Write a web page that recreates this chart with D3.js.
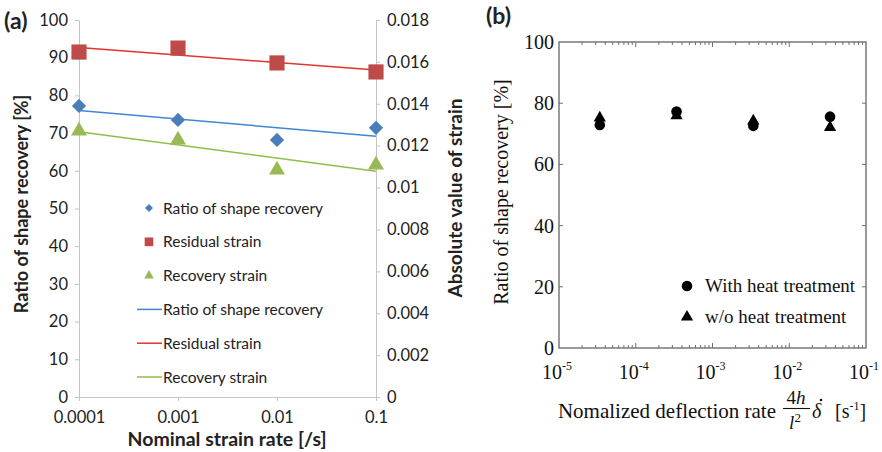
<!DOCTYPE html>
<html>
<head>
<meta charset="utf-8">
<script src="https://cdn.jsdelivr.net/npm/d3@7"></script>
<style>
  body { margin: 0; background: #fff; }
  svg { display: block; }
  .sans { font-family: Lato, "Open Sans", sans-serif; fill: #222; }
  .serif { font-family: "Liberation Serif", "DejaVu Serif", serif; fill: #111; }
</style>
</head>
<body>
<div id="chart"></div>
<script>
// ---- data ----
// (a) strain-rate sweep
const rateA = [0.0001, 0.001, 0.01, 0.1];
const rateATicks = ["0.0001", "0.001", "0.01", "0.1"];
const ratioRecovery = [77.2, 73.5, 68.2, 71.4];          // left axis, %
const residualStrain = [0.01647, 0.01666, 0.01595, 0.01552]; // right axis
const recoveryStrain = [0.0127, 0.01227, 0.01084, 0.01108];  // right axis
const leftTicksA = [0, 10, 20, 30, 40, 50, 60, 70, 80, 90, 100];
const rightTicksA = [0, 0.002, 0.004, 0.006, 0.008, 0.01, 0.012, 0.014, 0.016, 0.018];

// (b) deflection-rate sweep
const rateB = [3.4e-5, 3.4e-4, 3.4e-3, 3.4e-2];
const withHeat = [72.9, 77.3, 72.6, 75.6];
const withoutHeat = [75.2, 75.9, 74.2, 72.1];
const yTicksB = [0, 20, 40, 60, 80, 100];
const xExpB = [-5, -4, -3, -2, -1];

const width = 882, height = 452;

const svg = d3.select("#chart")
  .append("svg")
  .attr("width", width)
  .attr("height", height);

// ================= panel (a) =================
const a = { left: 79, right: 376, top: 20, bottom: 397 };

let xA = d3.scaleLog().domain([0.0001, 0.1]).range([a.left, a.right]);
let yA = d3.scaleLinear().domain([0, 100]).range([a.bottom, a.top]);
let y2A = d3.scaleLinear().domain([0, 0.018]).range([a.bottom, a.top]);

const axisGray = "#c4c4c4";

// left axis
let gl = svg.append("g")
  .attr("transform", `translate(${a.left},0)`)
  .call(d3.axisLeft(yA).tickValues(leftTicksA).tickSize(4).tickPadding(7).tickSizeOuter(0));
gl.selectAll("text").attr("class", "sans").style("font-size", "16.5px").attr("fill", "#222");

// right axis
let gr = svg.append("g")
  .attr("transform", `translate(${a.right},0)`)
  .call(d3.axisRight(y2A).tickValues(rightTicksA).tickSize(4).tickPadding(7).tickSizeOuter(0)
    .tickFormat(d => d === 0 ? "0" : d3.format(".3~f")(d)));
gr.selectAll("text").attr("class", "sans").style("font-size", "16.5px").attr("fill", "#222");

// bottom axis
let gb = svg.append("g")
  .attr("transform", `translate(0,${a.bottom})`)
  .call(d3.axisBottom(xA).tickValues(rateA).tickSize(4).tickPadding(10).tickSizeOuter(0)
    .tickFormat((d, i) => rateATicks[i]));
gb.selectAll("text").attr("class", "sans").style("font-size", "16.5px").attr("fill", "#222");

[gl, gr, gb].forEach(g => {
  g.select(".domain").attr("stroke", axisGray);
  g.selectAll(".tick line").attr("stroke", axisGray);
  g.attr("font-family", null).attr("font-size", null);
});

// trend lines: least squares in log10(x)
function fit(xs, ys) {
  let lx = xs.map(Math.log10);
  let mx = d3.mean(lx), my = d3.mean(ys);
  let slope = d3.sum(lx, (v, i) => (v - mx) * (ys[i] - my)) / d3.sum(lx, v => (v - mx) ** 2);
  return xs.map(x => ({ x: x, y: my + slope * (Math.log10(x) - mx) }));
}

const colBlue = "#4a7ebb", colRed = "#be4b48", colGreen = "#98b954";
const lineBlue = "#3f86d4", lineRed = "#e2332f", lineGreen = "#8cc04a";

let lineL = d3.line().x(d => xA(d.x)).y(d => yA(d.y));
let lineR = d3.line().x(d => xA(d.x)).y(d => y2A(d.y));
const ends = [rateA[0], rateA[rateA.length - 1]];

svg.append("path").datum(fit(rateA, residualStrain).filter(d => ends.includes(d.x)))
  .attr("d", lineR).attr("fill", "none").attr("stroke", lineRed).attr("stroke-width", 1.5);
svg.append("path").datum(fit(rateA, ratioRecovery).filter(d => ends.includes(d.x)))
  .attr("d", lineL).attr("fill", "none").attr("stroke", lineBlue).attr("stroke-width", 1.5);
svg.append("path").datum(fit(rateA, recoveryStrain).filter(d => ends.includes(d.x)))
  .attr("d", lineR).attr("fill", "none").attr("stroke", lineGreen).attr("stroke-width", 1.5);

// markers
const diamond = d3.symbol().type(d3.symbolDiamond2).size(130);
const square = d3.symbol().type(d3.symbolSquare).size(230);
const triangle = d3.symbol().type(d3.symbolTriangle).size(110);

svg.append("g").selectAll("path").data(rateA).join("path")
  .attr("transform", (d, i) => `translate(${xA(d)},${y2A(residualStrain[i])})`)
  .attr("d", square).attr("fill", colRed);
svg.append("g").selectAll("path").data(rateA).join("path")
  .attr("transform", (d, i) => `translate(${xA(d)},${yA(ratioRecovery[i])})`)
  .attr("d", diamond).attr("fill", colBlue);
svg.append("g").selectAll("path").data(rateA).join("path")
  .attr("transform", (d, i) => `translate(${xA(d)},${y2A(recoveryStrain[i])})`)
  .attr("d", triangle).attr("fill", colGreen);

// legend (a)
const legA = [
  { label: "Ratio of shape recovery", sym: d3.symbol().type(d3.symbolDiamond2).size(40), col: colBlue },
  { label: "Residual strain", sym: d3.symbol().type(d3.symbolSquare).size(75), col: colRed },
  { label: "Recovery strain", sym: d3.symbol().type(d3.symbolTriangle).size(40), col: colGreen },
  { label: "Ratio of shape recovery", col: lineBlue },
  { label: "Residual strain", col: lineRed },
  { label: "Recovery strain", col: lineGreen }
];
let lg = svg.append("g");
legA.forEach((d, i) => {
  let yy = 208 + i * 33.8;
  if (d.sym) {
    lg.append("path").attr("d", d.sym).attr("transform", `translate(149,${yy})`).attr("fill", d.col);
  } else {
    lg.append("line").attr("x1", 137).attr("x2", 162).attr("y1", yy).attr("y2", yy)
      .attr("stroke", d.col).attr("stroke-width", 1.5);
  }
  lg.append("text").attr("class", "sans").attr("x", 163).attr("y", yy + 5.5)
    .style("font-size", "15.5px").text(d.label);
});

// titles (a)
svg.append("text").attr("class", "sans")
  .attr("transform", "translate(28,204) rotate(-90)")
  .attr("text-anchor", "middle").style("font-size", "18px").style("font-weight", "bold")
  .text("Ratio of shape recovery [%]");
svg.append("text").attr("class", "sans")
  .attr("transform", "translate(462,198) rotate(-90)")
  .attr("text-anchor", "middle").style("font-size", "19px").style("font-weight", "bold")
  .text("Absolute value of strain");
svg.append("text").attr("class", "sans")
  .attr("x", 227).attr("y", 446)
  .attr("text-anchor", "middle").style("font-size", "19.5px").style("font-weight", "bold")
  .text("Nominal strain rate [/s]");
svg.append("text").attr("class", "sans")
  .attr("x", 4).attr("y", 29).style("font-size", "23px").style("font-weight", "bold")
  .text("(a)");

// ================= panel (b) =================
const b = { left: 559, right: 866, top: 42, bottom: 348 };

let xB = d3.scaleLog().domain([1e-5, 1e-1]).range([b.left, b.right]);
let yB = d3.scaleLinear().domain([0, 100]).range([b.bottom, b.top]);

const frameCol = "#6f6f6f";
svg.append("rect")
  .attr("x", b.left).attr("y", b.top)
  .attr("width", b.right - b.left).attr("height", b.bottom - b.top)
  .attr("fill", "none").attr("stroke", frameCol).attr("stroke-width", 1.4);

// inward log ticks on top and bottom
let logTicks = xB.ticks().filter(t => t > 1e-5 && t < 1e-1);
let tb = svg.append("g").attr("stroke", frameCol).attr("stroke-width", 1);
logTicks.forEach(t => {
  let major = Math.abs(Math.log10(t) - Math.round(Math.log10(t))) < 1e-9;
  let len = major ? 5 : 3;
  tb.append("line").attr("x1", xB(t)).attr("x2", xB(t)).attr("y1", b.bottom).attr("y2", b.bottom - len);
  tb.append("line").attr("x1", xB(t)).attr("x2", xB(t)).attr("y1", b.top).attr("y2", b.top + len);
});
yTicksB.slice(1, -1).forEach(t => {
  tb.append("line").attr("x1", b.left).attr("x2", b.left + 4).attr("y1", yB(t)).attr("y2", yB(t));
  tb.append("line").attr("x1", b.right).attr("x2", b.right - 4).attr("y1", yB(t)).attr("y2", yB(t));
});

// tick labels
svg.append("g").selectAll("text").data(yTicksB).join("text")
  .attr("class", "serif").attr("x", b.left - 5).attr("y", d => yB(d) + 7)
  .attr("text-anchor", "end").style("font-size", "20px").text(d => d);

let xl = svg.append("g").selectAll("text").data(xExpB).join("text")
  .attr("class", "serif").attr("x", d => xB(Math.pow(10, d)) - 2).attr("y", 379)
  .attr("text-anchor", "middle").style("font-size", "20px");
xl.append("tspan").text("10");
xl.append("tspan").attr("dy", -9).style("font-size", "12px").text(d => d);

// markers (b)
svg.append("g").selectAll("path").data(rateB).join("path")
  .attr("transform", (d, i) => `translate(${xB(d)},${yB(withoutHeat[i])})`)
  .attr("d", d3.symbol().type(d3.symbolTriangle).size(65)).attr("fill", "#000");
svg.append("g").selectAll("circle").data(rateB).join("circle")
  .attr("cx", d => xB(d)).attr("cy", (d, i) => yB(withHeat[i]))
  .attr("r", 5.3).attr("fill", "#000");

// legend (b)
svg.append("circle").attr("cx", 687).attr("cy", 286).attr("r", 5.3).attr("fill", "#000");
svg.append("path").attr("d", d3.symbol().type(d3.symbolTriangle).size(65)())
  .attr("transform", "translate(687,317)").attr("fill", "#000");
svg.append("text").attr("class", "serif").attr("x", 705).attr("y", 292)
  .style("font-size", "19px").text("With heat treatment");
svg.append("text").attr("class", "serif").attr("x", 705).attr("y", 323)
  .style("font-size", "19px").text("w/o heat treatment");

// titles (b)
svg.append("text").attr("class", "serif")
  .attr("transform", "translate(508,192) rotate(-90)")
  .attr("text-anchor", "middle").style("font-size", "20px")
  .text("Ratio of shape recovery [%]");

svg.append("text").attr("class", "serif").attr("x", 776).attr("y", 418)
  .attr("text-anchor", "end").style("font-size", "21px").text("Nomalized deflection rate");
// fraction 4h / l^2
svg.append("text").attr("class", "serif").attr("x", 796).attr("y", 404)
  .attr("text-anchor", "middle").style("font-size", "19px")
  .html('4<tspan font-style="italic">h</tspan>');
svg.append("line").attr("x1", 783).attr("x2", 810).attr("y1", 408.5).attr("y2", 408.5)
  .attr("stroke", "#111").attr("stroke-width", 1.1);
svg.append("text").attr("class", "serif").attr("x", 795).attr("y", 429)
  .attr("text-anchor", "middle").style("font-size", "19px")
  .html('<tspan font-style="italic">l</tspan><tspan dy="-7" font-size="13px">2</tspan>');
svg.append("text").attr("class", "serif").attr("x", 812).attr("y", 418)
  .style("font-size", "20px").style("font-style", "italic").text("\u03B4");
svg.append("circle").attr("cx", 821).attr("cy", 400).attr("r", 1.3).attr("fill", "#111");
svg.append("text").attr("class", "serif").attr("x", 835).attr("y", 418)
  .style("font-size", "20px")
  .html('[s<tspan dy="-8" font-size="12px">-1</tspan><tspan dy="8">]</tspan>');

svg.append("text").attr("class", "sans")
  .attr("x", 486).attr("y", 24).style("font-size", "23px").style("font-weight", "bold")
  .text("(b)");
</script>
</body>
</html>
